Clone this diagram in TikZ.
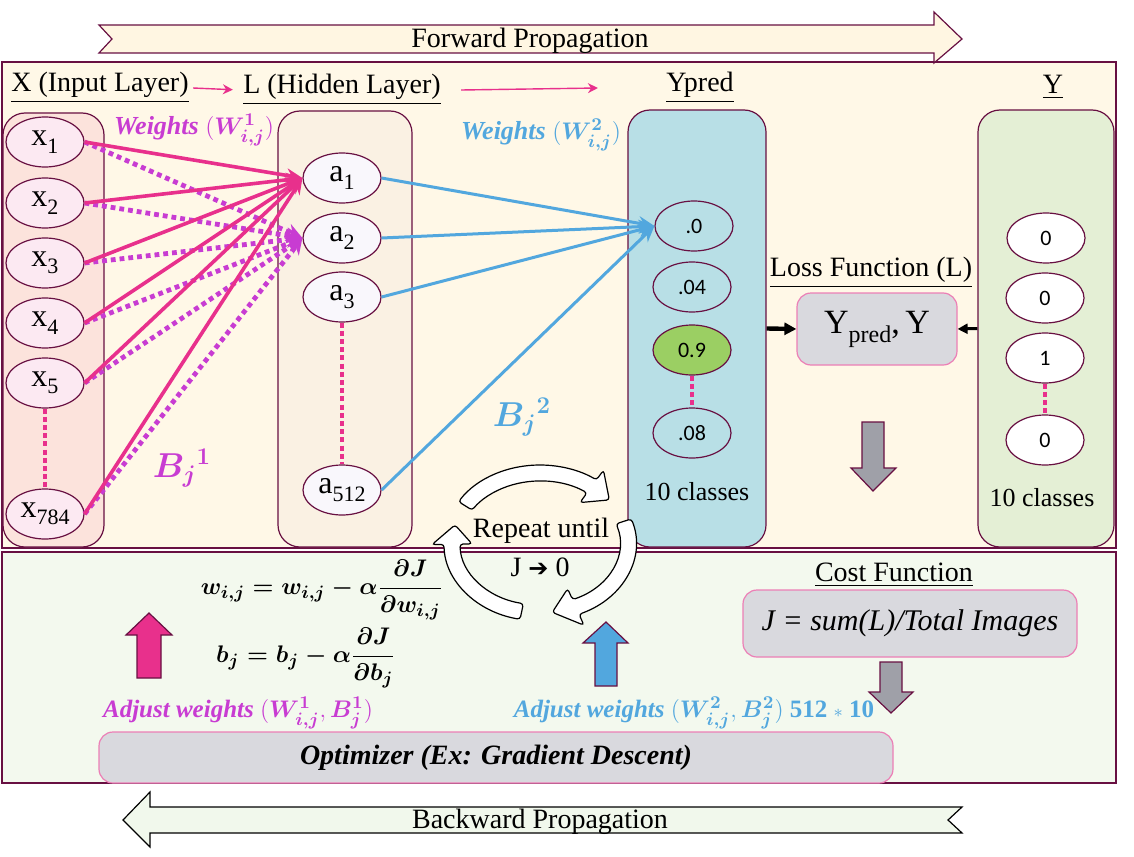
\documentclass[tikz,border=0pt]{standalone}
\usepackage{fontspec}
\usepackage{amsmath}
\usepackage{bm}
\setmainfont{Liberation Serif}
\setsansfont{Carlito}
\newfontfamily\symfont{DejaVu Sans}
\usetikzlibrary{shapes.geometric,arrows.meta}

\definecolor{frame}{RGB}{104,16,66}
\definecolor{upperbg}{RGB}{255,248,231}
\definecolor{lowerbg}{RGB}{243,249,238}
\definecolor{fwdbg}{RGB}{255,246,226}
\definecolor{bwdbg}{RGB}{241,248,236}
\definecolor{incol}{RGB}{252,227,220}
\definecolor{innode}{RGB}{252,233,242}
\definecolor{hidcol}{RGB}{250,241,227}
\definecolor{hidnode}{RGB}{249,247,252}
\definecolor{predcol}{RGB}{184,223,230}
\definecolor{hitgreen}{RGB}{155,207,99}
\definecolor{truecol}{RGB}{228,239,213}
\definecolor{wpink}{RGB}{232,48,140}
\definecolor{wpurple}{RGB}{200,60,210}
\definecolor{wblue}{RGB}{82,167,222}
\definecolor{boxgrey}{RGB}{217,217,222}
\definecolor{boxedge}{RGB}{236,127,182}
\definecolor{arrgrey}{RGB}{159,160,168}

\newcommand\fsz[1]{\fontsize{#1}{#1}\selectfont}
\newcommand\lsub[1]{\raisebox{-0.5ex}{\fsz{11}#1}}
\newcommand\cyclearr[2]{%
  \filldraw[cyclearrow] (#1:96 and 78)
    arc[start angle=#1,end angle={#2+16},x radius=96,y radius=78]
    -- ({#2+16}:108 and 90) -- (#2:88 and 70) -- ({#2+16}:68 and 50)
    -- ({#2+16}:80 and 62)
    arc[start angle={#2+16},end angle=#1,x radius=80,y radius=62] -- cycle;}

\begin{document}
\begin{tikzpicture}[x=0.5pt,y=-0.5pt,
   panel/.style={draw=frame,line width=1.1pt},
   layerbox/.style={draw=frame,line width=0.6pt,rounded corners=11pt},
   neuron/.style={draw=frame,line width=0.6pt,ellipse,inner sep=0pt,
                  minimum width=39pt,minimum height=25pt,font=\fsz{16}},
   classnode/.style={neuron,font=\sffamily\fsz{11}},
   headtext/.style={font=\fsz{14},inner sep=2pt},
   greybox/.style={draw=boxedge,fill=boxgrey,line width=0.6pt,rounded corners=7pt},
   wlink/.style={wpink,line width=1.8pt,-{Stealth[length=8pt,width=7pt]}},
   blink/.style={wpurple,line width=2.4pt,dash pattern=on 2.4pt off 2pt,
                 -{Stealth[length=8pt,width=8pt]}},
   olink/.style={wblue,line width=1.5pt,-{Stealth[length=8pt,width=7pt]}},
   vdots/.style={wpink,line width=1.8pt,dash pattern=on 2.5pt off 1.6pt},
   blockarrow/.style={draw=frame,line width=0.6pt},
   cyclearrow/.style={draw=black,fill=white,line width=0.6pt,rounded corners=1.5pt}]

\useasboundingbox (0,0) rectangle (1134,856);

\draw[panel,fill=upperbg] (2,62) rectangle (1116,548);
\draw[panel,fill=lowerbg] (2,552) rectangle (1116,783);

\draw[blockarrow,fill=fwdbg] (99,25) -- (934,25) -- (934,12) -- (962,39) -- (934,63)
   -- (934,53) -- (99,53) -- (112,39) -- cycle;
\node[font=\fsz{14}] (fwd) at (530,41) {Forward Propagation};
\draw[black,line width=0.6pt,fill=bwdbg] (123,820) -- (150,792) -- (150,807) -- (962,807)
   -- (948,820) -- (962,833) -- (150,833) -- (150,847) -- cycle;
\node[font=\fsz{14}] (bwd) at (540,822) {Backward Propagation};

\node[headtext] (xhead) at (100,88) {\underline{X (Input Layer)}};
\node[headtext] (lhead) at (342,90) {\underline{L (Hidden Layer)}};
\node[headtext] (phead) at (700,88) {\underline{Ypred}};
\node[headtext] (thead) at (1053,87) {\underline{Y}};
\draw[wpink,line width=0.7pt,-{Stealth[length=5pt,width=5pt]},shorten >=3pt] (xhead.east) -- (lhead.west);
\draw[wpink,line width=0.7pt,-{Stealth[length=5pt,width=5pt]}] ([xshift=8pt]lhead.east) -- ([xshift=-32pt]phead.west);

\node[layerbox,fill=incol,minimum width=50.5pt,minimum height=217pt] (inlayer) at (53.5,330) {};
\node[layerbox,fill=hidcol,minimum width=67pt,minimum height=218pt] (hidlayer) at (345,329) {};
\node[layerbox,fill=predcol,minimum width=69pt,minimum height=218.5pt] (predlayer) at (697,328.5) {};
\node[layerbox,fill=truecol,minimum width=68pt,minimum height=218.5pt] (truelayer) at (1046,328.5) {};

\node[neuron,fill=innode] (x1) at (45,142) {x\lsub{1}};
\node[neuron,fill=innode] (x2) at (45,203) {x\lsub{2}};
\node[neuron,fill=innode] (x3) at (45,263) {x\lsub{3}};
\node[neuron,fill=innode] (x4) at (45,323) {x\lsub{4}};
\node[neuron,fill=innode] (x5) at (45,383) {x\lsub{5}};
\node[neuron,fill=innode] (x784) at (45,514) {x\lsub{784}};

\node[neuron,fill=hidnode] (a1) at (342,178) {a\lsub{1}};
\node[neuron,fill=hidnode] (a2) at (342,238) {a\lsub{2}};
\node[neuron,fill=hidnode] (a3) at (342,297) {a\lsub{3}};
\node[neuron,fill=hidnode] (a512) at (342,490) {a\lsub{512}};

\node[classnode,fill=predcol] (yp1) at (694,226) {.0};
\node[classnode,fill=predcol] (yp2) at (692,287) {.04};
\node[classnode,fill=hitgreen] (yp3) at (692,350) {0.9};
\node[classnode,fill=predcol] (yp4) at (692,433) {.08};
\node[font=\fsz{13}] (pcls) at (697,492) {10 classes};

\node[classnode,fill=white] (yt1) at (1046,238) {0};
\node[classnode,fill=white] (yt2) at (1045,298) {0};
\node[classnode,fill=white] (yt3) at (1045,358) {1};
\node[classnode,fill=white] (yt4) at (1045,440) {0};
\node[font=\fsz{13}] (tcls) at (1042,498) {10 classes};

\draw[vdots] (x5.south) -- (x784.north);
\draw[vdots] (a3.south) -- (a512.north);
\draw[vdots] (yp3.south) -- (yp4.north);
\draw[vdots] (yt3.south) -- (yt4.north);

\foreach \i in {x1,x2,x3,x4,x5,x784}
   \draw[blink] (\i.east) -- (a2.west);
\foreach \i in {x1,x2,x3,x4,x5,x784}
   \draw[wlink] (\i.east) -- (a1.west);
\foreach \j in {a1,a2,a3,a512}
   \draw[olink] (\j.east) -- (yp1.west);

\node[text=wpurple,font=\bfseries\itshape\fsz{13}] (w1lab) at (194,130) {Weights $(\bm{W^1_{i,j}})$};
\node[text=wblue,font=\bfseries\itshape\fsz{13}] (w2lab) at (541,135) {Weights $(\bm{W^2_{i,j}})$};
\node[text=wpurple,font=\fsz{17}] (b1lab) at (182,468) {$\bm{B_j{}^1}$};
\node[text=wblue,font=\fsz{17}] (b2lab) at (522,417) {$\bm{B_j{}^2}$};

\node[headtext] (losshead) at (871,273) {\underline{Loss Function (L)}};
\node[greybox,minimum width=80pt,minimum height=36pt,font=\fsz{17}] (loss) at (877,329)
   {Y\raisebox{-4.5pt}{\fsz{12}pred},\,Y};
\draw[line width=2.2pt,-{Triangle[length=6pt,width=6pt]}] (predlayer.east) -- (loss.west);
\draw[line width=1.5pt,-{Triangle[length=5pt,width=5pt]}] (truelayer.west) -- (loss.east);
\draw[blockarrow,fill=arrgrey] (862,422) -- (884,422) -- (884,468) -- (896,468) -- (873,491)
   -- (851,468) -- (862,468) -- cycle;

\node[font=\fsz{12.5}\boldmath] (weq) at (322,590)
   {$w_{i,j} = w_{i,j} - \alpha\dfrac{\partial J}{\partial w_{i,j}}$};
\node[font=\fsz{12.5}\boldmath] (beq) at (306,658)
   {$b_j = b_j - \alpha\dfrac{\partial J}{\partial b_j}$};
\draw[blockarrow,fill=wpink] (137,678) -- (137,635) -- (126,635) -- (149,613) -- (172,635)
   -- (161,635) -- (161,678) -- cycle;
\draw[blockarrow,fill=wblue] (595,686) -- (595,643) -- (583,643) -- (606,622) -- (628,643)
   -- (617,643) -- (617,686) -- cycle;
\node[text=wpurple,font=\bfseries\itshape\fsz{12.5}] (adj1) at (238,713)
   {Adjust weights $(\bm{W^1_{i,j}}, \bm{B^1_j})$};
\node[text=wblue,font=\bfseries\itshape\fsz{12.5}] (adj2) at (694,713)
   {Adjust weights $(\bm{W^2_{i,j}}, \bm{B^2_j})$ \textup{512} {\fsz{9}$*$} \textup{10}};

\node[headtext] (costhead) at (894,575) {\underline{Cost Function}};
\node[greybox,minimum width=167pt,minimum height=33.5pt,font=\itshape\fsz{15}] (cost) at (910,623.5)
   {J = sum(L)/Total Images};
\draw[blockarrow,fill=arrgrey] (880,662) -- (902,662) -- (902,692) -- (913,692) -- (891,713)
   -- (869,692) -- (880,692) -- cycle;
\node[greybox,minimum width=397pt,minimum height=25.5pt,font=\bfseries\itshape\fsz{14}] (optim) at (496,757.5)
   {Optimizer (Ex: Gradient Descent)};

\node[font=\fsz{14}] (repeat) at (541,531) {Repeat until};
\node[font=\fsz{14}] (jzero) at (540,567) {J {\symfont\fsz{12}➔} 0};
\begin{scope}[shift={(540,543)},y=0.5pt]
\cyclearr{148}{38}
\cyclearr{18}{-82}
\cyclearr{258}{165}
\end{scope}

\end{tikzpicture}
\end{document}
